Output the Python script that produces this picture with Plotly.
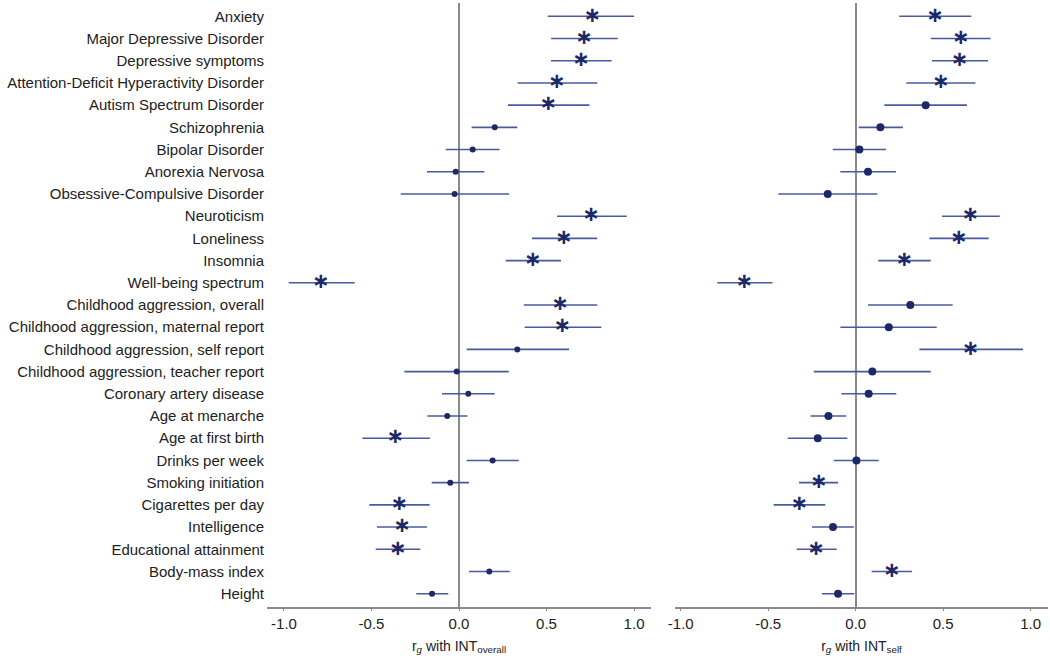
import plotly.graph_objects as go

traits = [
    "Anxiety", "Major Depressive Disorder", "Depressive symptoms",
    "Attention-Deficit Hyperactivity Disorder", "Autism Spectrum Disorder",
    "Schizophrenia", "Bipolar Disorder", "Anorexia Nervosa",
    "Obsessive-Compulsive Disorder", "Neuroticism", "Loneliness", "Insomnia",
    "Well-being spectrum", "Childhood aggression, overall",
    "Childhood aggression, maternal report", "Childhood aggression, self report",
    "Childhood aggression, teacher report", "Coronary artery disease",
    "Age at menarche", "Age at first birth", "Drinks per week",
    "Smoking initiation", "Cigarettes per day", "Intelligence",
    "Educational attainment", "Body-mass index", "Height",
]

# r_g with INT_overall
overall_rg = [0.762, 0.714, 0.697, 0.558, 0.510, 0.204, 0.078, -0.019, -0.025,
              0.754, 0.598, 0.421, -0.789, 0.577, 0.590, 0.333, -0.013, 0.053,
              -0.067, -0.364, 0.192, -0.050, -0.341, -0.326, -0.350, 0.173, -0.154]
overall_lo = [0.507, 0.526, 0.526, 0.335, 0.280, 0.072, -0.076, -0.183, -0.333,
              0.560, 0.417, 0.267, -0.973, 0.370, 0.375, 0.044, -0.312, -0.097,
              -0.181, -0.552, 0.044, -0.156, -0.512, -0.469, -0.476, 0.057, -0.244]
overall_hi = [1.000, 0.907, 0.872, 0.790, 0.745, 0.333, 0.232, 0.145, 0.286,
              0.958, 0.790, 0.583, -0.596, 0.790, 0.813, 0.629, 0.284, 0.204,
              0.048, -0.166, 0.341, 0.057, -0.168, -0.183, -0.221, 0.290, -0.061]
overall_sig = [1, 1, 1, 1, 1, 0, 0, 0, 0, 1, 1, 1, 1, 1, 1, 0, 0, 0,
               0, 1, 0, 0, 1, 1, 1, 0, 0]

# r_g with INT_self
self_rg = [0.453, 0.600, 0.594, 0.486, 0.400, 0.141, 0.021, 0.070, -0.160,
           0.655, 0.589, 0.278, -0.637, 0.312, 0.189, 0.657, 0.095, 0.074,
           -0.156, -0.217, 0.004, -0.211, -0.322, -0.130, -0.227, 0.206, -0.101]
self_lo = [0.249, 0.429, 0.436, 0.289, 0.164, 0.017, -0.131, -0.088, -0.442,
           0.493, 0.421, 0.129, -0.791, 0.070, -0.088, 0.364, -0.240, -0.082,
           -0.259, -0.389, -0.126, -0.324, -0.469, -0.250, -0.337, 0.091, -0.193]
self_hi = [0.661, 0.771, 0.756, 0.684, 0.636, 0.270, 0.173, 0.230, 0.124,
           0.823, 0.760, 0.429, -0.476, 0.554, 0.463, 0.956, 0.429, 0.232,
           -0.055, -0.048, 0.131, -0.101, -0.174, -0.011, -0.109, 0.322, -0.008]
self_sig = [1, 1, 1, 1, 0, 0, 0, 0, 0, 1, 1, 1, 1, 0, 0, 1, 0, 0,
            0, 0, 0, 1, 1, 0, 1, 1, 0]

tick_vals = [-1.0, -0.5, 0.0, 0.5, 1.0]
tick_text = ["-1.0", "-0.5", "0.0", "0.5", "1.0"]

LINE_C = "#4b5a9e"
MARK_C = "#1c2966"
FONT = "Liberation Sans, Arial, sans-serif"

fig = go.Figure()


def add_panel(rg, lo, hi, sig, xa, ya, dot_size):
    # CI lines
    fig.add_trace(go.Scatter(
        x=rg, y=traits, mode="markers",
        marker=dict(size=0.1, color="rgba(0,0,0,0)"),
        error_x=dict(type="data", symmetric=False,
                     array=[h - r for h, r in zip(hi, rg)],
                     arrayminus=[r - l for r, l in zip(rg, lo)],
                     color=LINE_C, thickness=1.6, width=0),
        xaxis=xa, yaxis=ya, showlegend=False, hoverinfo="skip"))
    # non-significant: dots
    nx = [r for r, s in zip(rg, sig) if not s]
    ny = [t for t, s in zip(traits, sig) if not s]
    fig.add_trace(go.Scatter(
        x=nx, y=ny, mode="markers",
        marker=dict(size=dot_size, color=MARK_C, symbol="circle"),
        xaxis=xa, yaxis=ya, showlegend=False))
    # significant: asterisks
    sx = [r for r, s in zip(rg, sig) if s]
    sy = [t for t, s in zip(traits, sig) if s]
    fig.add_trace(go.Scatter(
        x=sx, y=sy, mode="text", text=["<b>\u2217</b>"] * len(sx),
        textposition="middle center",
        textfont=dict(family="DejaVu Sans", size=21, color=MARK_C),
        xaxis=xa, yaxis=ya, showlegend=False))


add_panel(overall_rg, overall_lo, overall_hi, overall_sig, "x", "y", 6)
add_panel(self_rg, self_lo, self_hi, self_sig, "x2", "y2", 8)

xaxis_common = dict(
    tickvals=tick_vals, ticktext=tick_text, showgrid=False,
    zeroline=True, zerolinecolor="#8a8a8a", zerolinewidth=1.5,
    showline=True, linecolor="#8a8a8a", linewidth=1.5,
    ticks="outside", ticklen=2, tickcolor="#8a8a8a",
    tickfont=dict(family=FONT, size=15, color="#222222"),
    title_font=dict(family=FONT, size=14, color="#222222"),
    title_standoff=10, automargin=False,
)
yaxis_common = dict(
    type="category", categoryorder="array", categoryarray=traits,
    range=[26.6, -0.6], showgrid=False, zeroline=False, showline=False,
    ticks="", automargin=False,
)

fig.update_layout(
    width=1050, height=664,
    margin=dict(l=267, r=2, t=3, b=57),
    plot_bgcolor="white", paper_bgcolor="white",
    font=dict(family=FONT, color="#222222"),
    xaxis=dict(domain=[0, 0.4917], range=[-1.097, 1.097],
               title_text="r<sub><i>g</i></sub> with INT<sub>overall</sub>",
               **xaxis_common),
    xaxis2=dict(domain=[0.5224, 1], range=[-1.033, 1.099], anchor="y2",
                title_text="r<sub><i>g</i></sub> with INT<sub>self</sub>",
                **xaxis_common),
    yaxis=dict(anchor="x", showticklabels=True,
               tickfont=dict(family=FONT, size=15, color="#222222"),
               ticklabelstandoff=2,
               **yaxis_common),
    yaxis2=dict(anchor="x2", showticklabels=False, **yaxis_common),
)

fig.write_html("out.html",
               config={"displayModeBar": False},
               post_script="document.body.style.margin='0';"
                           "document.body.style.overflow='hidden';")
